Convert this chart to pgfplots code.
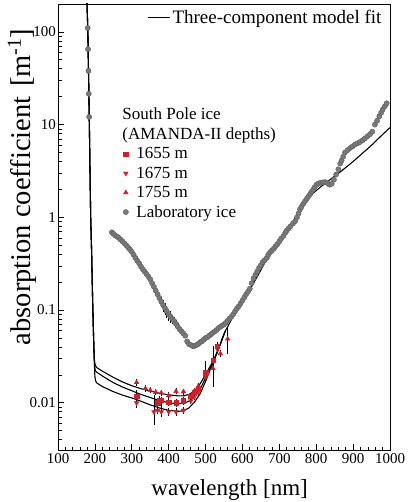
\documentclass[border=0pt]{standalone}
\usepackage{fontspec}
\setmainfont{Liberation Serif}
\usepackage{pgfplots}
\pgfplotsset{compat=1.18}
\usepackage{pgfplotstable}
\definecolor{myred}{RGB}{204,32,42}
\definecolor{labgray}{RGB}{122,122,122}
\definecolor{labedge}{RGB}{92,92,92}

\pgfplotstableread{
x y e
180.5 110 0
181.5 65 0
182.5 38 0
183.5 21.5 0
184.5 12.1 0
246 0.69 0
250 0.665 0
255 0.64 0
260 0.62 0
265 0.60 0
270 0.575 0
275 0.55 0
280 0.525 0
285 0.50 0
290 0.475 0
295 0.45 0
300 0.425 0
305 0.395 0
310 0.365 0
315 0.34 0
320 0.32 0
325 0.295 0
330 0.275 0
335 0.26 0
340 0.245 0
345 0.23 0
350 0.215 0
355 0.195 0
360 0.178 0
365 0.162 0
370 0.148 0.10
375 0.135 0.12
380 0.123 0.12
385 0.113 0.15
390 0.105 0.15
395 0.097 0.15
400 0.090 0.15
405 0.085 0.15
410 0.080 0.12
415 0.076 0.12
420 0.071 0.10
425 0.066 0.10
430 0.062 0.08
435 0.059 0.08
440 0.056 0.06
445 0.053 0
450 0.046 0
455 0.043 0
460 0.042 0
465 0.041 0
470 0.041 0
475 0.042 0
480 0.043 0
485 0.045 0
490 0.046 0
495 0.048 0
500 0.050 0
505 0.051 0
510 0.053 0
515 0.055 0
520 0.057 0
525 0.059 0
530 0.061 0
535 0.064 0
540 0.066 0
545 0.068 0
550 0.070 0
555 0.073 0
560 0.077 0
565 0.081 0
570 0.085 0
575 0.090 0
580 0.097 0
585 0.104 0
590 0.110 0
595 0.118 0
600 0.127 0
605 0.137 0
610 0.148 0
615 0.158 0
620 0.170 0
625 0.195 0
630 0.220 0
635 0.240 0
640 0.260 0
645 0.285 0
650 0.305 0
655 0.330 0
660 0.345 0
666 0.365 0
670 0.395 0
675 0.420 0
680 0.440 0
685 0.460 0
690 0.490 0
695 0.515 0
700 0.550 0
705 0.590 0
711 0.630 0
716 0.680 0
720 0.720 0
725 0.760 0
730 0.800 0
737 0.860 0
743 0.910 0
748 1.00 0
752 1.10 0
756 1.22 0
760 1.30 0
765 1.40 0
770 1.50 0
775 1.60 0
780 1.70 0
784 1.80 0
788 1.90 0
792 2.00 0
796 2.12 0
801 2.26 0
806 2.32 0
812 2.36 0
818 2.38 0
824 2.40 0
830 2.35 0
836 2.25 0
842 2.30 0
848 2.55 0
854 2.90 0
860 3.30 0
865 3.80 0
869 4.10 0
873 4.50 0
878 5.00 0
885 5.30 0
892 5.60 0
899 5.85 0
905 6.10 0
912 6.30 0
919 6.50 0
926 6.80 0
932 7.10 0
939 7.50 0
946 7.90 0
952 8.40 0
959 10.0 0
965 11.0 0
971 12.3 0
976 13.4 0
980 14.5 0
986 15.8 0
991 17.0 0
}\labdata

\pgfplotstableread{
x y
177.8 260
181 100
185 10
188.6 1
191 0.45
194 0.12
196.5 0.05
198 0.032
199.5 0.027
201.5 0.0252
205 0.0240
220 0.0220
250 0.0188
275 0.0168
300 0.0153
325 0.0142
350 0.0134
375 0.0127
400 0.0122
425 0.0119
440 0.0119
455 0.0123
470 0.0134
485 0.0160
500 0.0200
510 0.0238
521 0.0285
535 0.038
553 0.059
580 0.093
602 0.130
620 0.166
650 0.270
675 0.420
700 0.580
729 0.800
750 1.10
774 1.55
790 1.80
810 2.10
840 2.60
870 3.20
900 4.00
925 4.90
950 6.00
975 7.50
1000 9.30
}\fitA

\pgfplotstableread{
x y
177.8 260
181 100
185 10
188.6 1
191 0.45
194 0.12
196.5 0.05
198 0.032
199.3 0.025
200.5 0.0228
202 0.0220
205 0.0214
220 0.0195
250 0.0165
275 0.0148
300 0.0135
325 0.0123
350 0.0114
375 0.0106
400 0.0100
425 0.0098
440 0.0099
455 0.0104
470 0.0117
485 0.0140
500 0.0185
510 0.0225
521 0.0280
535 0.038
553 0.059
}\fitB

\pgfplotstableread{
x y
177.8 260
181 100
185 10
188.6 1
191 0.45
194 0.12
196.5 0.05
198 0.032
199.5 0.021
200.5 0.0185
202 0.0172
205 0.0164
220 0.0150
250 0.0132
275 0.0121
300 0.0113
325 0.0104
350 0.0095
375 0.0088
400 0.0083
425 0.0081
440 0.0082
455 0.0088
470 0.0102
485 0.0125
500 0.0170
510 0.0215
521 0.0272
535 0.038
553 0.059
}\fitC

\pgfplotstableread{
x y em ep
313 0.0118 0.0025 0.0020
370 0.0100 0.0012 0.0012
375 0.0106 0.0012 0.0012
380 0.0106 0.0030 0.0010
400 0.0102 0.0010 0.0010
420 0.0100 0.0010 0.0010
440 0.0105 0.0010 0.0010
460 0.0118 0.0010 0.0010
470 0.0128 0.0010 0.0012
480 0.0142 0.0012 0.0012
500 0.0215 0.0045 0.0065
520 0.0290 0.0140 0.0120
532 0.0410 0.0040 0.0040
}\dA

\pgfplotstableread{
x y em ep
313 0.0100 0.0012 0.0012
360 0.0080 0.0022 0.0040
370 0.0083 0.0008 0.0008
380 0.0080 0.0010 0.0010
400 0.0080 0.0008 0.0008
420 0.0080 0.0008 0.0008
440 0.0083 0.0008 0.0008
460 0.0105 0.0008 0.0008
470 0.0118 0.0010 0.0010
480 0.0130 0.0010 0.0010
500 0.0190 0.0020 0.0020
532 0.0380 0.0030 0.0030
}\dB

\pgfplotstableread{
x y em ep
313 0.0166 0.0015 0.0015
337 0.0143 0.0012 0.0012
350 0.0137 0.0010 0.0010
365 0.0130 0.0010 0.0010
380 0.0128 0.0010 0.0010
400 0.0120 0.0010 0.0010
420 0.0133 0.0010 0.0010
440 0.0132 0.0010 0.0010
470 0.0135 0.0010 0.0010
480 0.0150 0.0012 0.0012
500 0.0200 0.0020 0.0020
520 0.0235 0.0040 0.0040
540 0.0340 0.0030 0.0030
560 0.0490 0.0150 0.0150
}\dC

\begin{document}
\begin{tikzpicture}
\useasboundingbox (-58pt,-52pt) rectangle (349pt,450pt);
\begin{axis}[
  scale only axis, width=332pt, height=446pt,
  xmin=100, xmax=1000, ymode=log, ymin=0.0031, ymax=200,
  xtick={100,200,...,1000},
  xticklabels={100,200,300,400,500,600,700,800,900,1000},
  minor x tick num=4,
  ytick={0.01,0.1,1,10,100},
  yticklabels={0.01,0.1,1,10,100},
  minor ytick={0.004,0.005,0.006,0.007,0.008,0.009,0.02,0.03,0.04,0.05,0.06,0.07,0.08,0.09,0.2,0.3,0.4,0.5,0.6,0.7,0.8,0.9,2,3,4,5,6,7,8,9,20,30,40,50,60,70,80,90},
  tick align=inside, tick pos=left,
  major tick length=6pt, minor tick length=3.5pt,
  every tick/.style={black, line width=0.7pt},
  axis line style={line width=0.9pt},
  ticklabel style={font=\fontsize{15}{18}\selectfont},
  yticklabel style={xshift=1.5pt},
  xlabel={wavelength [nm]},
  ylabel={absorption coefficient\,\,[m\textsuperscript{-1}]},
  xlabel style={font=\fontsize{23}{27}\selectfont,
    at={(axis description cs:0.517,0)}, anchor=base, yshift=-45pt},
  ylabel style={font=\fontsize{28.5}{33}\selectfont,
    at={(axis description cs:-0.0843,0.59)}, anchor=base},
  legend style={draw=none, fill=none, font=\fontsize{19}{23}\selectfont,
    at={(0.99,0.995)}, anchor=north east},
  legend image code/.code={\draw[#1] (0pt,0pt) -- (22pt,0pt);},
]
\addplot[only marks, mark=*, mark size=2.6pt, fill=labgray, draw=labedge, forget plot,
  error bars/.cd, y dir=both, y explicit relative, error mark=none,
  error bar style={black, line width=0.7pt}]
  table[x=x, y=y, y error=e] {\labdata};
\addplot[black, line width=1.1pt] table {\fitA};
\addlegendentry{Three-component model fit}
\addplot[black, line width=1.1pt, forget plot] table {\fitB};
\addplot[black, line width=1.1pt, forget plot] table {\fitC};
\end{axis}

\begin{axis}[
  scale only axis, width=332pt, height=446pt,
  xmin=100, xmax=1000, ymode=log, ymin=0.0031, ymax=200,
  hide axis,
  legend style={draw=none, fill=none, font=\fontsize{17}{20}\selectfont,
    at={(0.169,0.776)}, anchor=north west, legend cell align=left,
    row sep=2.5pt},
]
\addlegendimage{empty legend}
\addlegendentry{\hspace*{-8pt}South Pole ice}
\addlegendimage{empty legend}
\addlegendentry{\hspace*{-8pt}(AMANDA-II depths)}
\addplot[only marks, mark=square*, mark size=2.2pt, myred,
  error bars/.cd, y dir=both, y explicit, error mark=none,
  error bar style={black, line width=0.8pt}]
  table[x=x, y=y, y error plus=ep, y error minus=em] {\dA};
\addlegendentry{\hspace*{6pt}1655 m}
\addplot[only marks, mark=triangle*, mark size=2.7pt, mark options={rotate=180}, myred,
  error bars/.cd, y dir=both, y explicit, error mark=none,
  error bar style={black, line width=0.8pt}]
  table[x=x, y=y, y error plus=ep, y error minus=em] {\dB};
\addlegendentry{\hspace*{6pt}1675 m}
\addplot[only marks, mark=triangle*, mark size=2.7pt, myred,
  error bars/.cd, y dir=both, y explicit, error mark=none,
  error bar style={black, line width=0.8pt}]
  table[x=x, y=y, y error plus=ep, y error minus=em] {\dC};
\addlegendentry{\hspace*{6pt}1755 m}
\addlegendimage{only marks, mark=*, mark size=2.6pt, fill=labgray, draw=labedge}
\addlegendentry{\hspace*{6pt}Laboratory ice}
\end{axis}
\end{tikzpicture}
\end{document}
